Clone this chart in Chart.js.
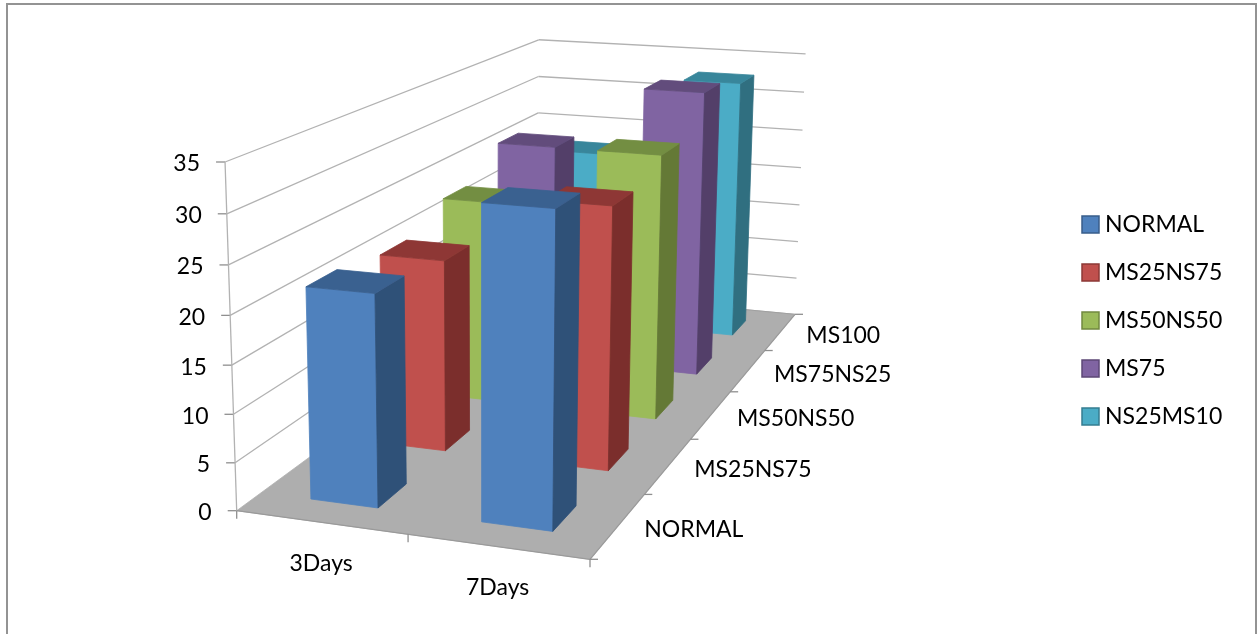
<!DOCTYPE html>
<html>
<head>
<meta charset="utf-8">
<title>Strength by mix</title>
<script src="https://cdn.jsdelivr.net/npm/chart.js@4/dist/chart.umd.js"></script>
<style>
    html, body { margin: 0; background: #fff; overflow: hidden; }
    #frame { position: absolute; left: 6px; top: 3px; width: 1247px; height: 640px; border: 2px solid #939393; }
    #createChart { position: absolute; left: 0; top: 0; }
</style>
</head>
<body>
<div id="frame"></div>
<canvas id="createChart" width="1258" height="634"></canvas>
<script>
var categories = ['3Days', '7Days'];
var depthLabels = ['NORMAL', 'MS25NS75', 'MS50NS50', 'MS75NS25', 'MS100'];
var seriesNames = ['NORMAL', 'MS25NS75', 'MS50NS50', 'MS75', 'NS25MS10'];

var normal = [22, 31.8];
var ms25ns75 = [21, 28.3];
var ms50ns50 = [23.4, 30.2];
var ms75 = [26.6, 34.3];
var ns25ms10 = [22.5, 32.7];
var seriesValues = [normal, ms25ns75, ms50ns50, ms75, ns25ms10];

var frontColors = ['#4F81BD', '#C0504D', '#9BBB59', '#8064A2', '#4BACC6'];
var topColors = ['#3A6190', '#8E3735', '#738E42', '#624C7C', '#38869B'];
var sideColors = ['#2F5178', '#7B2E2C', '#647936', '#533F69', '#306F80'];
var legendBorders = ['#385D8A', '#8C3836', '#71893F', '#5C4776', '#357D91'];

// floor corners and the point the vertical edges run towards
var floorFL = [236.7, 510.7];
var floorFR = [590, 559.3];
var floorBR = [795, 314.3];
var floorBL = [537, 290];
var vanish = [485, 7937];
var axisTopY = 162;

var proj = makeProjection();

// square to quad homography for the floor, plus a vertical term for height
function makeProjection() {
    var sx = floorFL[0] - floorFR[0] + floorBR[0] - floorBL[0];
    var sy = floorFL[1] - floorFR[1] + floorBR[1] - floorBL[1];
    var dx1 = floorFR[0] - floorBR[0];
    var dx2 = floorBL[0] - floorBR[0];
    var dy1 = floorFR[1] - floorBR[1];
    var dy2 = floorBL[1] - floorBR[1];
    var den = dx1 * dy2 - dx2 * dy1;
    var g = (sx * dy2 - dx2 * sy) / den;
    var h = (dx1 * sy - sx * dy1) / den;
    return {
        a: floorFR[0] - floorFL[0] + g * floorFR[0],
        b: floorBL[0] - floorFL[0] + h * floorBL[0],
        c: floorFL[0],
        d: floorFR[1] - floorFL[1] + g * floorFR[1],
        e: floorBL[1] - floorFL[1] + h * floorBL[1],
        f: floorFL[1],
        g: g,
        h: h,
        k: (axisTopY - floorFL[1]) / (vanish[1] - axisTopY)
    };
}

// u across the categories, v back through the rows, z up the value axis (all 0..1)
function project(u, v, z) {
    var p = proj;
    var w = p.g * u + p.h * v + 1 + p.k * z;
    return [
        (p.a * u + p.b * v + p.c + p.k * z * vanish[0]) / w,
        (p.d * u + p.e * v + p.f + p.k * z * vanish[1]) / w
    ];
}

function heightOf(chart, value) {
    var y = chart.scales.y;
    return (y.bottom - y.getPixelForValue(value)) / y.height;
}

function polygon(ctx, pts, fill, stroke) {
    ctx.beginPath();
    ctx.moveTo(pts[0][0], pts[0][1]);
    for (var i = 1; i < pts.length; i++) {
        ctx.lineTo(pts[i][0], pts[i][1]);
    }
    ctx.closePath();
    ctx.fillStyle = fill;
    ctx.fill();
    ctx.lineWidth = 0.8;
    ctx.strokeStyle = stroke;
    ctx.stroke();
}

function line(ctx, a, b, color, width) {
    ctx.beginPath();
    ctx.moveTo(a[0], a[1]);
    ctx.lineTo(b[0], b[1]);
    ctx.strokeStyle = color;
    ctx.lineWidth = width;
    ctx.stroke();
}

function drawFloorAndWalls(chart) {
    var ctx = chart.ctx;
    var gridColor = '#b2b2b2';
    var tickColor = '#8f8f8f';

    polygon(ctx, [project(0, 0, 0), project(1, 0, 0), project(1, 1, 0), project(0, 1, 0)], '#AEAEAE', '#AEAEAE');

    chart.scales.y.ticks.forEach(function(tick) {
        var z = heightOf(chart, tick.value);
        var corner = project(0, 1, z);
        var front = project(0, 0, z);
        if (tick.value > 0) {
            line(ctx, front, corner, gridColor, 1.3);
            line(ctx, corner, project(1, 1, z), gridColor, 1.3);
        }
        line(ctx, [front[0] - 9, front[1]], front, tickColor, 1.3);
    });

    line(ctx, project(0, 0, 0), project(0, 0, 1), gridColor, 1.3);
    line(ctx, project(0, 0, 0), project(1, 0, 0), '#9a9a9a', 1.3);
    line(ctx, project(1, 0, 0), project(1, 1, 0), '#9a9a9a', 1.3);
    line(ctx, project(0, 1, 0), project(1, 1, 0), '#a0a0a0', 1);

    // ticks along the front edge and the right edge of the floor
    [0, 0.5, 1].forEach(function(u) {
        var p = project(u, 0, 0);
        line(ctx, p, [p[0], p[1] + 8], tickColor, 1.3);
    });
    [0, 0.2, 0.4, 0.6, 0.8, 1].forEach(function(v) {
        var p = project(1, v, 0);
        line(ctx, p, [p[0] + 8, p[1]], tickColor, 1.3);
    });
}

function drawAxisText(chart) {
    var ctx = chart.ctx;
    var depth = chart.scales.depth;
    var x = chart.scales.x;

    ctx.font = '23px Lato';
    ctx.fillStyle = '#000';
    ctx.textBaseline = 'middle';

    ctx.textAlign = 'right';
    chart.scales.y.ticks.forEach(function(tick) {
        var p = project(0, 0, heightOf(chart, tick.value));
        ctx.fillText(tick.value, p[0] - 25, p[1] + 2);
    });

    ctx.textAlign = 'center';
    categories.forEach(function(name, i) {
        var u = (x.getPixelForValue(i) - x.left) / x.width;
        var p = project(u, 0, 0);
        ctx.fillText(name, p[0], p[1] + 41);
    });

    ctx.textAlign = 'left';
    depthLabels.forEach(function(name, i) {
        var v = (depth.getPixelForValue(i) - depth.top) / depth.height;
        var p = project(1, v, 0);
        ctx.fillText(name, p[0] + 26, p[1] + 4);
    });
}

// a bar as a box: front, right side and lid
function drawBox(chart, row, bar) {
    var ctx = chart.ctx;
    var x = chart.scales.x;
    var depth = chart.scales.depth;
    var u0 = (bar.x - bar.width / 2 - x.left) / x.width;
    var u1 = (bar.x + bar.width / 2 - x.left) / x.width;
    var band = depth.height / depthLabels.length * 0.4;
    var v0 = (depth.getPixelForValue(row) - band / 2 - depth.top) / depth.height;
    var v1 = (depth.getPixelForValue(row) + band / 2 - depth.top) / depth.height;
    var y = chart.scales.y;
    var z = (y.bottom - bar.y) / y.height;

    polygon(ctx, [project(u0, v0, 0), project(u1, v0, 0), project(u1, v0, z), project(u0, v0, z)], frontColors[row], frontColors[row]);
    polygon(ctx, [project(u1, v0, 0), project(u1, v1, 0), project(u1, v1, z), project(u1, v0, z)], sideColors[row], sideColors[row]);
    polygon(ctx, [project(u0, v0, z), project(u1, v0, z), project(u1, v1, z), project(u0, v1, z)], topColors[row], topColors[row]);
}

var boxPlugin = {
    id: 'boxes',
    afterLayout: function(chart) {
        // the legend sits beside the plot at its own height
        var legend = chart.legend;
        legend.left = 1062.5;
        legend.right = 1258;
        legend.top = 188;
        legend.bottom = 520;
    },
    beforeDatasetsDraw: function(chart) {
        drawFloorAndWalls(chart);
    },
    beforeDatasetDraw: function(chart, args) {
        // datasets come in from the last to the first, so the rows stack back to front
        args.meta.data.forEach(function(bar) {
            drawBox(chart, args.index, bar);
        });
        return false;
    },
    afterDatasetsDraw: function(chart) {
        drawAxisText(chart);
    }
};

function createChart() {
    var ctx = document.getElementById('createChart').getContext('2d');
    var datasets = seriesNames.map(function(name, i) {
        return {
            label: name,
            data: seriesValues[i],
            backgroundColor: frontColors[i],
            borderColor: legendBorders[i],
            borderWidth: 1.5,
            pointStyle: 'rect'
        };
    });
    return new Chart(ctx, {
        type: 'bar',
        data: { labels: categories, datasets: datasets },
        plugins: [boxPlugin],
        options: {
            responsive: false,
            animation: false,
            grouped: false,
            categoryPercentage: 1,
            barPercentage: 0.4,
            layout: { padding: { left: 100, top: axisTopY, bottom: 634 - floorFL[1] } },
            scales: {
                x: { display: false, offset: true },
                y: { display: false, min: 0, max: 35, ticks: { stepSize: 5 } },
                depth: { display: false, type: 'category', axis: 'y', labels: depthLabels, offset: true }
            },
            plugins: {
                tooltip: { enabled: false },
                legend: {
                    position: 'right',
                    align: 'start',
                    labels: {
                        color: '#000',
                        font: { family: 'Lato', size: 23 },
                        usePointStyle: true,
                        boxWidth: 6,
                        boxHeight: 17,
                        padding: 25
                    }
                }
            }
        }
    });
}

createChart();
</script>
</body>
</html>
